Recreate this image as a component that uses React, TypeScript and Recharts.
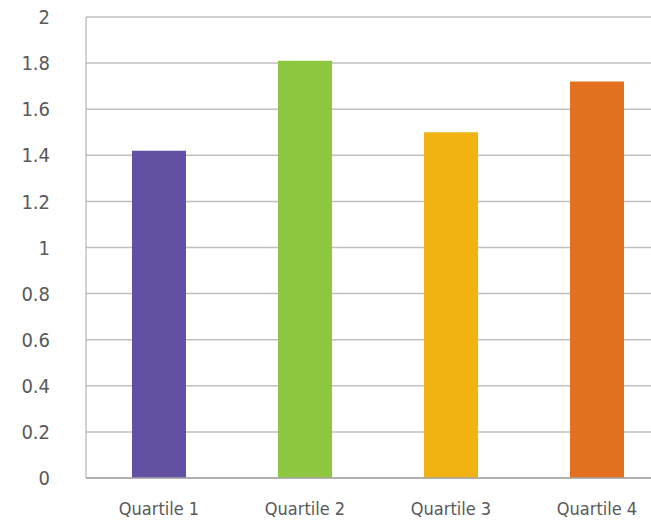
import React from "react";
import { BarChart, Bar, XAxis, YAxis, CartesianGrid, Cell } from "recharts";

const quartiles = ["Quartile 1", "Quartile 2", "Quartile 3", "Quartile 4"];
const scores = [1.42, 1.81, 1.5, 1.72];
const barColors = ["#6251A2", "#8DC63F", "#F0B312", "#E3701E"];
const yTicks = [0, 0.2, 0.4, 0.6, 0.8, 1, 1.2, 1.4, 1.6, 1.8, 2];

const data = quartiles.map((name, i) => ({ name, value: scores[i] }));

const FONT = '"DejaVu Sans Condensed", "Liberation Sans", sans-serif';
const xTickStyle = { fontSize: 18, fill: "#595959", fontFamily: FONT, fontStretch: "condensed" };
const yTickStyle = { ...xTickStyle, fontSize: 20 };

export default function App() {
  return (
    <div
      style={{
        position: "absolute",
        left: 0,
        top: 0,
        width: 651,
        height: 522,
        overflow: "hidden",
        background: "#fff",
      }}
    >
      {/* plot runs past the right edge, so the last band is cut off */}
      <BarChart
        width={670}
        height={522}
        data={data}
        margin={{ top: 17, right: 0, bottom: 0, left: 0 }}
        barCategoryGap={0}
      >
        <CartesianGrid vertical={false} stroke="#bfbfbf" strokeWidth={1.5} />
        <XAxis
          dataKey="name"
          height={44}
          tick={xTickStyle}
          tickSize={0}
          tickMargin={24}
          tickLine={false}
          axisLine={{ stroke: "#a6a6a6", strokeWidth: 1.5 }}
        />
        <YAxis
          width={86}
          domain={[0, 2]}
          ticks={yTicks}
          interval={0}
          tick={yTickStyle}
          tickSize={0}
          tickMargin={36}
          tickLine={false}
          axisLine={{ stroke: "#a6a6a6", strokeWidth: 1 }}
        />
        <Bar dataKey="value" barSize={54} isAnimationActive={false}>
          {data.map((d, i) => (
            <Cell key={d.name} fill={barColors[i]} />
          ))}
        </Bar>
      </BarChart>
    </div>
  );
}
